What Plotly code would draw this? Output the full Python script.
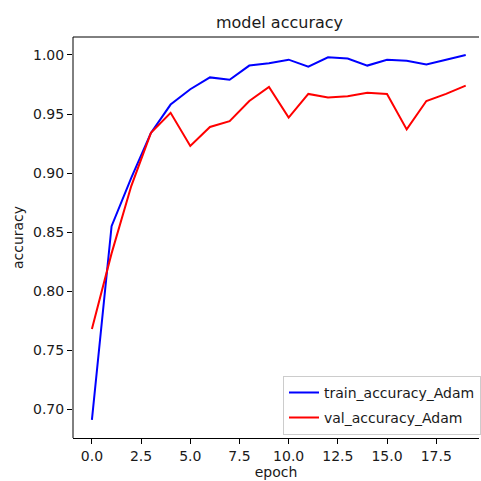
import plotly.graph_objects as go

# Training history (accuracy per epoch)
epochs = list(range(20))
train_accuracy_adam = [0.691, 0.855, 0.896, 0.934, 0.958, 0.971, 0.981, 0.979, 0.991, 0.993,
                       0.996, 0.990, 0.998, 0.997, 0.991, 0.996, 0.995, 0.992, 0.996, 1.000]
val_accuracy_adam = [0.768, 0.832, 0.889, 0.934, 0.951, 0.923, 0.939, 0.944, 0.961, 0.973,
                     0.947, 0.967, 0.964, 0.965, 0.968, 0.967, 0.937, 0.961, 0.967, 0.974]

y_ticks = [0.70, 0.75, 0.80, 0.85, 0.90, 0.95, 1.00]
x_ticks = [0.0, 2.5, 5.0, 7.5, 10.0, 12.5, 15.0, 17.5]

FONT = "DejaVu Sans"
TXT = "#1a1a1a"

fig = go.Figure()
fig.add_trace(go.Scatter(x=epochs, y=train_accuracy_adam, mode="lines",
                         name="train_accuracy_Adam", legendgroup="a",
                         line=dict(color="#0000ff", width=2)))
fig.add_trace(go.Scatter(x=epochs, y=val_accuracy_adam, mode="lines",
                         name="val_accuracy_Adam", legendgroup="b",
                         line=dict(color="#ff0000", width=2)))

# keep the right edge of the canvas open (the axes box continues past it)
fig.add_shape(type="rect", xref="paper", yref="paper", x0=0.993, x1=1.01, y0=0.004, y1=0.996,
              fillcolor="white", line=dict(width=0), layer="above")
# left and top spines
fig.add_shape(type="line", xref="paper", yref="paper", x0=0, x1=1, y0=1, y1=1,
              line=dict(color="black", width=1))
fig.add_shape(type="line", xref="paper", yref="paper", x0=0, x1=0, y0=0, y1=1,
              line=dict(color="black", width=1))

fig.update_layout(
    width=481, height=481,
    margin=dict(l=73, r=0, t=37, b=43),
    paper_bgcolor="white", plot_bgcolor="white",
    font=dict(family=FONT, size=14, color=TXT),
    title=dict(text="model accuracy", x=(279.5 / 481), xanchor="center",
               y=1 - 22 / 481, yanchor="middle",
               font=dict(family=FONT, size=16, color=TXT)),
    showlegend=True,
    legend=dict(x=1.006, xanchor="right", y=0.008, yanchor="bottom",
                bgcolor="rgba(255,255,255,0.8)", bordercolor="#cccccc", borderwidth=1,
                font=dict(family=FONT, size=14, color=TXT),
                tracegroupgap=4, itemwidth=30),
)

fig.update_xaxes(
    range=[-0.961, 19.675], tickvals=x_ticks, ticktext=[f"{v:.1f}" for v in x_ticks],
    showgrid=False, zeroline=False, showline=True, linecolor="black", linewidth=1,
    mirror=False, ticks="outside", ticklen=5, tickcolor="black", tickwidth=1,
    title=dict(text="epoch", standoff=4, font=dict(family=FONT, size=14, color=TXT)),
    automargin=False,
)
fig.update_yaxes(
    range=[0.6757, 1.0152], tickvals=y_ticks, ticktext=[f"{v:.2f}" for v in y_ticks],
    showgrid=False, zeroline=False, showline=False,
    ticks="outside", ticklen=5, tickcolor="black", tickwidth=1,
    title=dict(text="accuracy", standoff=6, font=dict(family=FONT, size=14, color=TXT)),
    automargin=False,
)

fig.write_html("out.html", config={"displayModeBar": False})
